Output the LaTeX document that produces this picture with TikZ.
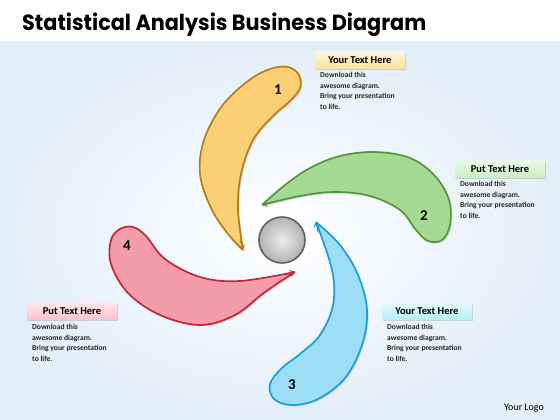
\documentclass[tikz,border=0pt]{standalone}
\usepackage{fontspec}
\setmainfont{Carlito}
\newfontfamily\titlefont{Poppins}
\usetikzlibrary{arrows.meta,shadows,positioning}

\definecolor{goldfill}{RGB}{250,207,118}
\definecolor{goldline}{RGB}{176,128,26}
\definecolor{goldbox}{RGB}{252,226,160}
\definecolor{leaffill}{RGB}{166,218,148}
\definecolor{leafline}{RGB}{84,150,60}
\definecolor{leafbox}{RGB}{204,238,192}
\definecolor{skyfill}{RGB}{156,222,246}
\definecolor{skyline}{RGB}{30,158,210}
\definecolor{skybox}{RGB}{182,240,250}
\definecolor{rosefill}{RGB}{244,156,170}
\definecolor{roseline}{RGB}{192,40,62}
\definecolor{rosebox}{RGB}{250,196,206}
\definecolor{paleblue}{RGB}{226,238,248}

\tikzset{petal/.style = {line width=1.7pt, line join=round,
  drop shadow={opacity=0.25, shadow xshift=1.5pt, shadow yshift=-1.5pt}}}
\tikzset{tipline/.style = {line width=1pt, -{Straight Barb[length=4pt,width=6pt]}}}
\tikzset{headbox/.style = {font=\bfseries\fontsize{10.5}{12}\selectfont, minimum width=90pt,
  minimum height=17pt, inner sep=0pt,
  drop shadow={opacity=0.3, shadow xshift=1pt, shadow yshift=-1.2pt}}}
\tikzset{bodytext/.style = {font=\bfseries\fontsize{7.6}{10.6}\selectfont, align=left,
  anchor=north west, inner sep=0pt, text=black!85}}
\tikzset{number/.style = {font=\bfseries\fontsize{15}{15}\selectfont}}

\newcommand{\blurb}{Download this\\awesome diagram.\\Bring your presentation\\to life.}

\begin{document}
\begin{tikzpicture}[x=1pt, y=-1pt]
  \useasboundingbox (0,0) rectangle (560,420);
  \fill[white] (0,0) rectangle (560,420);
  \shade[inner color=white, outer color=paleblue] (0,42) rectangle (560,420);

  \node[anchor=base west, inner sep=0pt, font=\titlefont\bfseries\fontsize{22}{24}\selectfont]
    (title) at (22,31) {\scalebox{0.945}[1]{Statistical Analysis Business Diagram}};

  % petals
  \draw[petal, goldline, fill=goldfill] plot[smooth, tension=0.6] coordinates {
    (243,250) (228,234) (211,208) (200,174) (204,140) (222,106) (248,81) (270,69)
    (288,67) (299,75) (300,88) (291,100) (272,117) (253,140) (241,174) (238,210) (243,250)};
  \draw[petal, leafline, fill=leaffill] plot[smooth, tension=0.6] coordinates {
    (262,205) (285,185) (310,168) (340,156) (375,152) (410,158) (435,176) (449,200)
    (450,225) (442,240) (428,241) (416,230) (400,210) (370,196) (335,192) (300,196) (262,205)};
  \draw[petal, skyline, fill=skyfill] plot[smooth, tension=0.6] coordinates {
    (316,222) (340,245) (358,275) (367,310) (362,345) (345,378) (318,399) (292,405)
    (274,399) (270,384) (282,368) (300,354) (320,335) (333,305) (332,270) (316,222)};
  \draw[petal, roseline, fill=rosefill] plot[smooth, tension=0.6] coordinates {
    (295,272) (265,292) (235,315) (200,325) (160,315) (128,293) (111,264) (111,240)
    (120,229) (133,227) (146,236) (165,259) (200,277) (240,281) (295,272)};

  \draw[tipline, goldline] (240,240) -- (243,250);
  \draw[tipline, leafline] (272,202) -- (262,205);
  \draw[tipline, skyline] (318,232) -- (316,222);
  \draw[tipline, roseline] (285,275) -- (295,272);

  \node[number] (num1) at (278,90) {1};
  \node[number] (num2) at (424,216) {2};
  \node[number] (num3) at (292,385) {3};
  \node[number] (num4) at (127,246) {4};

  \draw[line width=1.6pt, gray!75!black, inner color=gray!15, outer color=gray!60]
    (282,240) circle (23);
  \coordinate (hub) at (282,240);

  % captions
  \node[headbox, top color=goldbox!40, bottom color=goldbox] (box1) at (360,60) {Your Text Here};
  \node[bodytext] (txt1) at (320,72) {\blurb};
  \node[headbox, top color=leafbox!40, bottom color=leafbox] (box2) at (500,169) {Put Text Here};
  \node[bodytext] (txt2) at (460,181) {\blurb};
  \node[headbox, top color=skybox!40, bottom color=skybox] (box3) at (427,311) {Your Text Here};
  \node[bodytext] (txt3) at (387,324) {\blurb};
  \node[headbox, top color=rosebox!40, bottom color=rosebox] (box4) at (72,311) {Put Text Here};
  \node[bodytext] (txt4) at (32,324) {\blurb};

  \node[font=\fontsize{10}{12}\selectfont] (logo) at (524,408) {Your Logo};
\end{tikzpicture}
\end{document}
